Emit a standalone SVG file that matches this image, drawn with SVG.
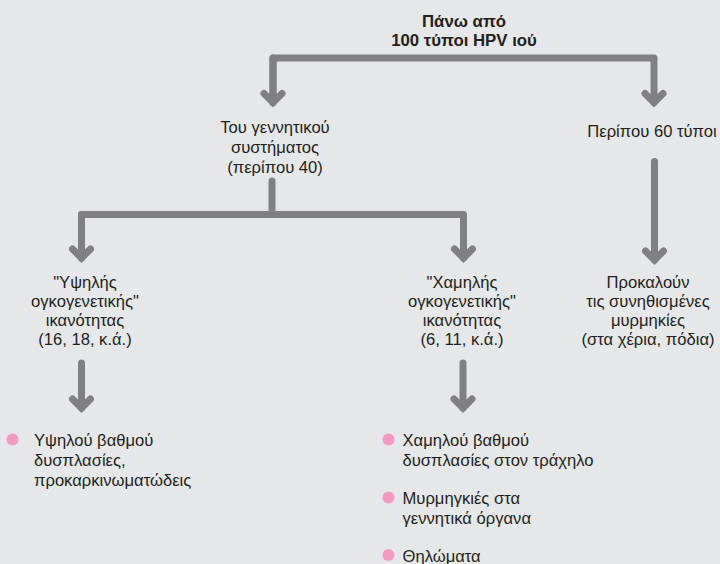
<svg xmlns="http://www.w3.org/2000/svg" width="720" height="564" viewBox="0 0 720 564">
<defs>
<style>
.bg{fill:#e6e7e8}
.t{font-family:"Liberation Sans",Arial,sans-serif;font-size:16.6px;fill:#231f20}
.c{text-anchor:middle}
.b{font-weight:bold;font-size:16.8px}
.ln{fill:none;stroke:#808083;stroke-width:7;stroke-linecap:round;stroke-linejoin:round}
.dot{fill:#f49ac1}
</style>
<marker id="chev" markerUnits="userSpaceOnUse" orient="auto" refX="0" refY="0" markerWidth="30" markerHeight="30" overflow="visible">
<polyline points="-9,-9 0,0 -9,9" fill="none" stroke="#808083" stroke-width="7" stroke-linecap="round" stroke-linejoin="miter"/>
</marker>
</defs>
<rect class="bg" x="0" y="0" width="720" height="564"/>
<g id="connectors">
<path class="ln" d="M273,102.5 V58 H654 V102.5" marker-end="url(#chev)"/>
<path class="ln" d="M273,58 V102.5" marker-end="url(#chev)"/>
<path class="ln" d="M272,181 V214.5"/>
<path class="ln" d="M81.5,258 V214.5 H463.5 V258" marker-end="url(#chev)"/>
<path class="ln" d="M81.5,214.5 V258" marker-end="url(#chev)"/>
<path class="ln" d="M654.5,161.5 V260" marker-end="url(#chev)"/>
<path class="ln" d="M81.5,363 V408" marker-end="url(#chev)"/>
<path class="ln" d="M463,363 V408" marker-end="url(#chev)"/>
</g>
<g id="root">
<text class="t c b" x="464" y="26.5">Πάνω από</text>
<text class="t c b" x="464" y="46">100 τύποι HPV ιού</text>
</g>
<g id="genital">
<text class="t c" x="275" y="133">Του γεννητικού</text>
<text class="t c" x="275" y="153">συστήματος</text>
<text class="t c" x="275" y="173">(περίπου 40)</text>
</g>
<g id="other60">
<text class="t c" x="652" y="137">Περίπου 60 τύποι</text>
</g>
<g id="high">
<text class="t c" x="85" y="288">"Υψηλής</text>
<text class="t c" x="85" y="307">ογκογενετικής"</text>
<text class="t c" x="85" y="326">ικανότητας</text>
<text class="t c" x="85" y="344.5">(16, 18, κ.ά.)</text>
</g>
<g id="low">
<text class="t c" x="462" y="288">"Χαμηλής</text>
<text class="t c" x="462" y="307">ογκογενετικής"</text>
<text class="t c" x="462" y="326">ικανότητας</text>
<text class="t c" x="462" y="344.5">(6, 11, κ.ά.)</text>
</g>
<g id="warts">
<text class="t c" x="648" y="288">Προκαλούν</text>
<text class="t c" x="648" y="307">τις συνηθισμένες</text>
<text class="t c" x="648" y="326">μυρμηκίες</text>
<text class="t c" x="648" y="344.5">(στα χέρια, πόδια)</text>
</g>
<g id="high-effects">
<circle class="dot" cx="12.5" cy="439.5" r="6"/>
<text class="t" x="34" y="446">Υψηλού βαθμού</text>
<text class="t" x="34" y="466">δυσπλασίες,</text>
<text class="t" x="34" y="486">προκαρκινωματώδεις</text>
</g>
<g id="low-effects">
<circle class="dot" cx="388.5" cy="439.5" r="6"/>
<text class="t" x="402.5" y="446">Χαμηλού βαθμού</text>
<text class="t" x="402.5" y="466">δυσπλασίες στον τράχηλο</text>
<circle class="dot" cx="388.5" cy="497.5" r="6"/>
<text class="t" x="402.5" y="504">Μυρμηγκιές στα</text>
<text class="t" x="402.5" y="524">γεννητικά όργανα</text>
<circle class="dot" cx="388.5" cy="555" r="6"/>
<text class="t" x="402.5" y="562">Θηλώματα</text>
</g>
</svg>
